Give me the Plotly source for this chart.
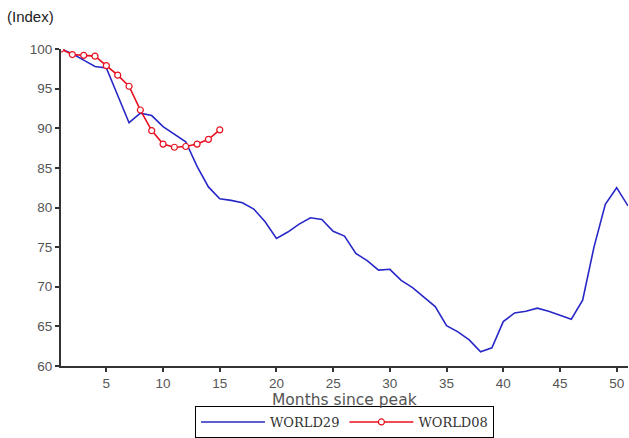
import plotly.graph_objects as go

# Months since the pre-crisis peak
months_29 = list(range(1, 52))
months_08 = list(range(1, 16))

# World industrial production index (peak = 100)
world29 = [100.0, 99.4, 98.6, 97.8, 97.6, 94.2, 90.7, 91.9, 91.6, 90.2,
           89.3, 88.3, 85.2, 82.6, 81.1, 80.9, 80.6, 79.8, 78.2, 76.1,
           76.9, 77.9, 78.7, 78.5, 77.0, 76.4, 74.2, 73.3, 72.1, 72.2,
           70.8, 69.9, 68.7, 67.5, 65.1, 64.3, 63.3, 61.8, 62.3, 65.6,
           66.7, 66.9, 67.3, 66.9, 66.4, 65.9, 68.3, 75.0, 80.4, 82.5,
           80.2]
world08 = [100.0, 99.3, 99.2, 99.1, 97.9, 96.7, 95.3, 92.3, 89.7, 88.0,
           87.6, 87.7, 88.0, 88.6, 89.8]

x_ticks = [5, 10, 15, 20, 25, 30, 35, 40, 45, 50]
y_ticks = [60, 65, 70, 75, 80, 85, 90, 95, 100]

fig = go.Figure()
fig.add_trace(go.Scatter(
    x=months_29, y=world29, mode="lines", name="WORLD29",
    line=dict(color="#2828c8", width=1.6),
))
fig.add_trace(go.Scatter(
    x=months_08, y=world08, mode="lines+markers", name="WORLD08",
    line=dict(color="#e8101e", width=1.6),
    marker=dict(symbol="circle", size=6, color="white",
                line=dict(color="#e8101e", width=1.2)),
))

axis_common = dict(
    showline=True, linecolor="#333333", linewidth=2,
    ticks="outside", ticklen=4, tickwidth=1.5, tickcolor="#333333",
    showgrid=False, zeroline=False,
    tickfont=dict(family="Liberation Sans", size=13.5, color="#555555"),
)

fig.update_layout(
    width=629, height=438,
    margin=dict(l=61, r=1, t=49, b=72, autoexpand=False),
    paper_bgcolor="white", plot_bgcolor="white",
    xaxis=dict(range=[1, 51], tickvals=x_ticks, **axis_common),
    yaxis=dict(range=[60, 100], tickvals=y_ticks, **axis_common),
    showlegend=True,
    legend=dict(
        orientation="h", x=0.5, xanchor="center", y=-0.1262, yanchor="top",
        bordercolor="black", borderwidth=1, itemwidth=64,
        font=dict(family="DejaVu Serif", size=13, color="#333333"),
        tracegroupgap=0,
    ),
    annotations=[
        dict(text="Months since peak", x=0.5, y=-0.107, xref="paper", yref="paper",
             xanchor="center", yanchor="middle", showarrow=False,
             font=dict(family="DejaVu Sans", size=15.5, color="#555555")),
        dict(text="(Index)", x=-0.099, y=1.101, xref="paper", yref="paper",
             xanchor="left", yanchor="middle", showarrow=False,
             font=dict(family="Liberation Sans", size=15, color="#222222")),
    ],
)

fig.write_html("out.html")
